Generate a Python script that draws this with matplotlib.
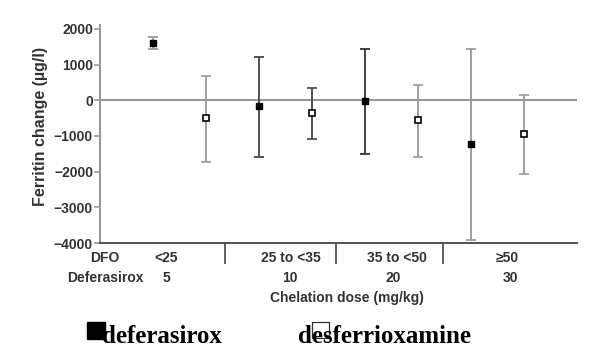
import matplotlib
matplotlib.use('Agg')
import matplotlib.pyplot as plt
from matplotlib.patches import Rectangle
import numpy as np

# data
dfo_groups = ['<25', '25 to <35', '35 to <50', '\u226550']
deferasirox_doses = ['5', '10', '20', '30']

deferasirox_mean = [1605, -150, -20, -1213]
deferasirox_low = [1437, -1577, -1501, -3902]
deferasirox_high = [1765, 1224, 1437, 1437]

dfo_mean = [-505, -345, -551, -952]
dfo_low = [-1717, -1073, -1587, -2053]
dfo_high = [692, 336, 429, 160]

W, H = 605, 360
fig = plt.figure(figsize=(W / 100, H / 100), dpi=100)
ax = fig.add_axes([100 / W, 1 - 243 / H, 477 / W, 217.6 / H])

txt = '#333333'
sans = 'Liberation Sans'

x_def = np.arange(len(deferasirox_mean)) * 2 + 1
x_dfo = x_def + 1

ax.axhline(0, color='#999999', lw=1.5, zorder=1)

def_cols = ['#999999', '#444444', '#333333', '#999999']
dfo_cols = ['#999999', '#444444', '#999999', '#999999']

for i in range(len(x_def)):
    m = deferasirox_mean[i]
    ax.errorbar(x_def[i], m, yerr=[[m - deferasirox_low[i]], [deferasirox_high[i] - m]],
                fmt='s', color=def_cols[i], ecolor=def_cols[i], mfc='black', mec='black',
                ms=5, capsize=3.5, elinewidth=1.3, capthick=1.3, zorder=3)
    m = dfo_mean[i]
    ax.errorbar(x_dfo[i], m, yerr=[[m - dfo_low[i]], [dfo_high[i] - m]],
                fmt='s', color=dfo_cols[i], ecolor=dfo_cols[i], mfc='white', mec='black',
                mew=1.2, ms=5, capsize=3.5, elinewidth=1.3, capthick=1.3, zorder=3)

ax.set_xlim(0, 9)
ax.set_ylim(-4000, 2100)
ax.set_yticks([2000, 1000, 0, -1000, -2000, -3000, -4000])
ax.set_yticklabels(['2000', '1000', '0', '\u22121000', '\u22122000', '\u22123000', '\u22124000'],
                   fontsize=10, fontweight='bold', color=txt, family=sans)
ax.tick_params(axis='y', direction='out', length=4, width=1.2, color='#999999', pad=1)

# group dividers on the x axis
ax.set_xticks([2.36, 4.45, 6.48])
ax.set_xticklabels([])
ax.tick_params(axis='x', direction='out', length=15, width=1.2, color='#444444')

for s in ['top', 'right']:
    ax.spines[s].set_visible(False)
ax.spines['left'].set_color('#999999')
ax.spines['left'].set_linewidth(1.5)
ax.spines['bottom'].set_color('#444444')
ax.spines['bottom'].set_linewidth(1.3)

tr = ax.get_xaxis_transform()
lab_kw = dict(fontsize=10, fontweight='bold', color=txt, family=sans, ha='center', va='center')
row1 = -0.07
row2 = -0.162
ax.text(0.09, row1, 'DFO', transform=tr, **lab_kw)
ax.text(0.11, row2, 'Deferasirox', transform=tr, **lab_kw)
for xp, lab in zip([1.25, 3.6, 5.61, 7.68], dfo_groups):
    ax.text(xp, row1, lab, transform=tr, **lab_kw)
for xp, lab in zip([1.26, 3.58, 5.53, 7.74], deferasirox_doses):
    ax.text(xp, row2, lab, transform=tr, **lab_kw)
ax.text(4.65, -0.254, 'Chelation dose (mg/kg)', transform=tr, **lab_kw)

fig.text(41 / W, 1 - 126 / H, 'Ferritin change (\u00b5g/l)', rotation=90, ha='center', va='center',
         fontsize=11.5, fontweight='bold', color=txt, family=sans)

# legend drawn below the chart
fig.add_artist(Rectangle((87 / W, 1 - 339 / H), 18 / W, 17 / H, transform=fig.transFigure,
                         facecolor='black', edgecolor='black'))
fig.text(102 / W, 1 - 343 / H, 'deferasirox', fontsize=18, fontweight='bold',
         family='Liberation Serif', va='baseline', ha='left', color='black')
fig.text(298 / W, 1 - 343 / H, 'desferrioxamine', fontsize=18, fontweight='bold',
         family='Liberation Serif', va='baseline', ha='left', color='black')
fig.add_artist(Rectangle((312 / W, 1 - 338 / H), 17 / W, 16 / H, transform=fig.transFigure,
                         facecolor='white', edgecolor='#333333', lw=0.9))

fig.savefig('out.png', dpi=100)
